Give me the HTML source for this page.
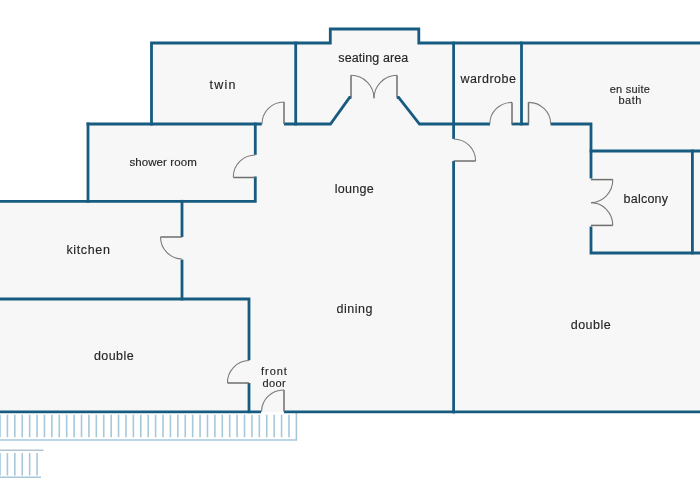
<!DOCTYPE html>
<html><head><meta charset="utf-8"><style>
html,body{margin:0;padding:0;background:#fff;width:700px;height:500px;overflow:hidden}
svg{display:block;will-change:transform}
text{font-family:"Liberation Sans",sans-serif;fill:#262626;stroke:#262626;stroke-width:0.15px}
</style></head><body>
<svg width="700" height="500" viewBox="0 0 700 500">
<!-- floor fill -->
<path fill="#f7f7f8" d="M0 201 H88 V124 H151.5 V43 H330.3 V29 H418.8 V43 H700 V412 H0 Z"/>
<!-- railing -->
<g stroke="#a6c8db" stroke-width="1.6" fill="none">
  <path d="M0.00 414.7V437.2 M7.41 414.7V437.2 M14.82 414.7V437.2 M22.23 414.7V437.2 M29.64 414.7V437.2 M37.05 414.7V437.2 M44.46 414.7V437.2 M51.87 414.7V437.2 M59.28 414.7V437.2 M66.69 414.7V437.2 M74.10 414.7V437.2 M81.51 414.7V437.2 M88.92 414.7V437.2 M96.33 414.7V437.2 M103.74 414.7V437.2 M111.15 414.7V437.2 M118.56 414.7V437.2 M125.97 414.7V437.2 M133.38 414.7V437.2 M140.79 414.7V437.2 M148.20 414.7V437.2 M155.61 414.7V437.2 M163.02 414.7V437.2 M170.43 414.7V437.2 M177.84 414.7V437.2 M185.25 414.7V437.2 M192.66 414.7V437.2 M200.07 414.7V437.2 M207.48 414.7V437.2 M214.89 414.7V437.2 M222.30 414.7V437.2 M229.71 414.7V437.2 M237.12 414.7V437.2 M244.53 414.7V437.2 M251.94 414.7V437.2 M259.35 414.7V437.2 M266.76 414.7V437.2 M274.17 414.7V437.2 M281.58 414.7V437.2 M288.99 414.7V437.2"/>
  <path d="M296.4 413V440H0"/>
  <path d="M0.00 453V475.5 M7.41 453V475.5 M14.82 453V475.5 M22.23 453V475.5 M29.64 453V475.5 M37.05 453V475.5"/>
  <path d="M0 477.3H41"/>
  <path d="M0 450.2H43.5" stroke="#b2c4cf"/>
</g>
<!-- walls -->
<g stroke="#175c80" stroke-width="2.8" fill="none" stroke-linecap="square" stroke-linejoin="miter">
  <!-- outer top -->
  <path d="M151.5 124 V43 H330.3 V29 H418.8 V43 H700"/>
  <!-- twin/seating divider -->
  <path d="M295.7 43 V124"/>
  <!-- seating/wardrobe and lounge right wall -->
  <path d="M453.6 43 V137.5"/>
  <path d="M453.6 162.4 V412"/>
  <!-- wardrobe / ensuite -->
  <path d="M521.5 43 V124"/>
  <!-- row y=124 -->
  <path d="M88 124 H260.4"/>
  <path d="M285.4 124 H330.5 L349.6 97.5 H350"/>
  <path d="M398.2 97.5 H398.6 L419.5 124 H488.6"/>
  <path d="M513 124 H527.5"/>
  <path d="M552 124 H591 V177"/>
  <path d="M591 227.8 V253 H700"/>
  <path d="M591 151 H700"/>
  <path d="M692.4 151 V253"/>
  <!-- shower room -->
  <path d="M88 124 V201.3 H255.3 V178"/>
  <path d="M255.3 124 V153.4"/>
  <path d="M0 201.3 H88"/>
  <!-- kitchen -->
  <path d="M182 201.3 V235.6"/>
  <path d="M182 261 V299"/>
  <path d="M0 299 H249 V358.8"/>
  <path d="M249 384.4 V411.8"/>
  <!-- bottom -->
  <path d="M0 411.8 H259.6"/>
  <path d="M285.4 411.8 H700"/>
</g>
<!-- doors -->
<g stroke="#7a7a7a" stroke-width="1.1" fill="none">
  <!-- twin -->
  <path d="M262 124 A22 22 0 0 1 284 102"/>
  <!-- seating double -->
  <path d="M351 75.3 A23 23 0 0 1 374 98.3"/>
  <path d="M397 75.3 A23 23 0 0 0 374 98.3"/>
  <!-- wardrobe -->
  <path d="M489.8 124 A22.2 21.6 0 0 1 512 102.4"/>
  <!-- ensuite -->
  <path d="M528.5 102.4 A22.2 21.6 0 0 1 550.7 124"/>
  <!-- lounge right -->
  <path d="M453.6 139 A22 22 0 0 1 475.6 161"/>
  <!-- shower -->
  <path d="M255.3 155 A22 22 0 0 0 233.3 177"/>
  <!-- kitchen -->
  <path d="M160.5 237 A22 22 0 0 0 182 259"/>
  <!-- double left -->
  <path d="M249 360.5 A22 22 0 0 0 227.5 383"/>
  <!-- front door -->
  <path d="M261.5 411.8 A22 22 0 0 1 284 390"/>
  <!-- balcony -->
  <path d="M612.8 179.6 A21.8 23 0 0 1 591 202.6"/>
  <path d="M612.8 225.4 A21.8 23 0 0 0 591 202.6"/>
</g>
<g stroke="#6e6e6e" stroke-width="1.5" fill="none">
  <path d="M284 124 V102"/>
  <path d="M351 97.5 V75.3"/>
  <path d="M397 97.5 V75.3"/>
  <path d="M512 124 V102.4"/>
  <path d="M528.5 124 V102.4"/>
  <path d="M453.6 161 H475.6"/>
  <path d="M255.3 177.5 H233.3"/>
  <path d="M182 237 H160.5"/>
  <path d="M249 383 H227.5"/>
  <path d="M284 411.8 V390"/>
  <path d="M591 179.6 H612.8"/>
  <path d="M591 225.4 H612.8"/>
</g>
<!-- labels -->
<g text-anchor="middle">
  <text x="222.5" y="88.8" font-size="12.5" textLength="26.0" lengthAdjust="spacing">twin</text>
  <text x="373.25" y="61.7" font-size="12.5" textLength="69.9" lengthAdjust="spacing">seating area</text>
  <text x="488.15" y="82.9" font-size="12.5" textLength="55.5" lengthAdjust="spacing">wardrobe</text>
  <text x="629.8" y="93.0" font-size="11" textLength="40.2" lengthAdjust="spacing">en suite</text>
  <text x="629.95" y="104.0" font-size="11" textLength="22.9" lengthAdjust="spacing">bath</text>
  <text x="163.1" y="166.1" font-size="11.5" textLength="67.4" lengthAdjust="spacing">shower room</text>
  <text x="354.15" y="193.0" font-size="12.5" textLength="38.9" lengthAdjust="spacing">lounge</text>
  <text x="645.75" y="202.9" font-size="12.5" textLength="44.5" lengthAdjust="spacing">balcony</text>
  <text x="88.15" y="254.0" font-size="12.5" textLength="43.5" lengthAdjust="spacing">kitchen</text>
  <text x="354.4" y="313.4" font-size="12.5" textLength="36.0" lengthAdjust="spacing">dining</text>
  <text x="113.75" y="360.2" font-size="12.5" textLength="39.7" lengthAdjust="spacing">double</text>
  <text x="590.7" y="329.3" font-size="12.5" textLength="39.8" lengthAdjust="spacing">double</text>
  <text x="274.0" y="375.2" font-size="11" textLength="25.8" lengthAdjust="spacing">front</text>
  <text x="274.0" y="386.9" font-size="11" textLength="23.2" lengthAdjust="spacing">door</text>
</g>
</svg>
</body></html>
